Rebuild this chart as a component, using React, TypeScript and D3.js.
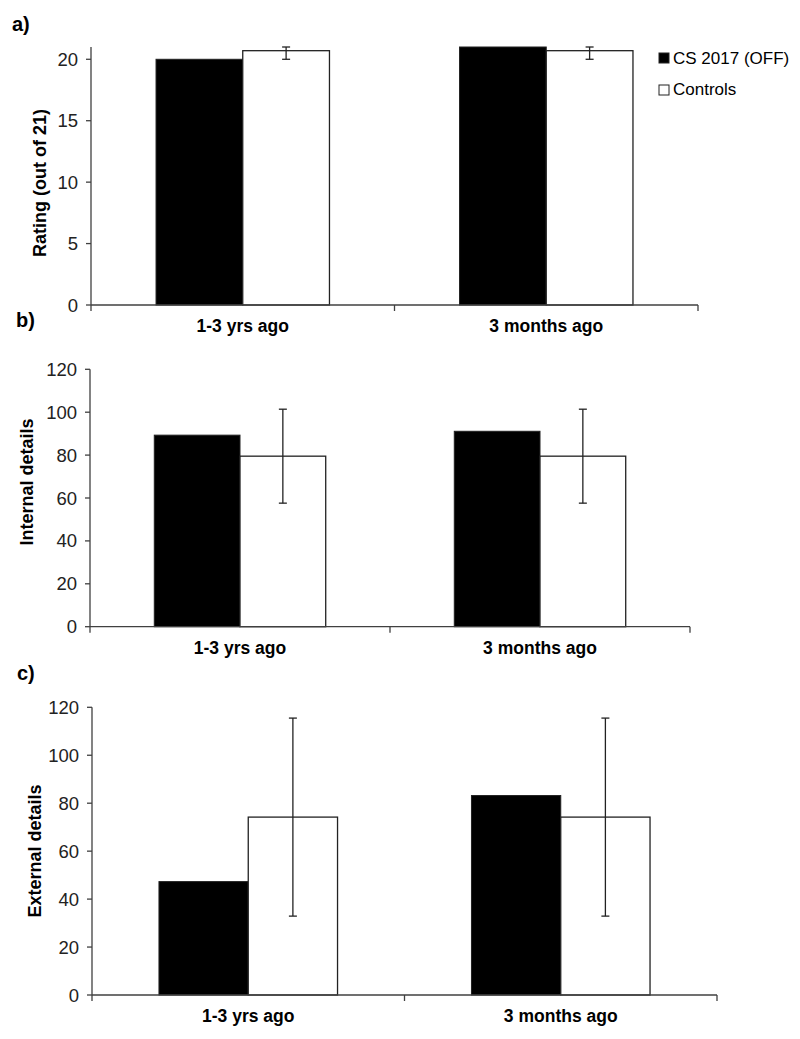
import React from "react";
import * as d3 from "d3";

const categories = ["1-3 yrs ago", "3 months ago"];
const seriesNames = ["CS 2017 (OFF)", "Controls"];

const ratingCS = [20, 21];
const ratingControls = [20.7, 20.7];
const ratingControlsErr = [0.7, 0.7];
const ratingTicks = [0, 5, 10, 15, 20];

const internalCS = [89.3, 91.1];
const internalControls = [79.5, 79.5];
const internalControlsErr = [21.9, 21.9];
const detailTicks = [0, 20, 40, 60, 80, 100, 120];

const externalCS = [47.3, 83.2];
const externalControls = [74.2, 74.2];
const externalControlsErr = [41.3, 41.3];

type PanelProps = {
  label: string;
  labelX: number;
  labelY: number;
  yTitle: string;
  yTitleX: number;
  yTitleY: number;
  x0: number;
  x1: number;
  yTop: number;
  yBottom: number;
  yMax: number;
  ticks: number[];
  cs: number[];
  ctrl: number[];
  ctrlErr: number[];
};

const FONT = "Arial, 'Liberation Sans', sans-serif";
const AXIS = "#404040";

function Panel(p: PanelProps) {
  const xOuter = d3.scaleBand<string>().domain(categories).range([p.x0, p.x1]).paddingInner(0).paddingOuter(0);
  const xInner = d3
    .scaleBand<string>()
    .domain(seriesNames)
    .range([0, xOuter.bandwidth()])
    .paddingInner(0)
    .paddingOuter(0.75);
  const y = d3.scaleLinear().domain([0, p.yMax]).range([p.yBottom, p.yTop]);
  const bw = xInner.bandwidth();
  const boundaries = [p.x0, ...categories.map((c) => (xOuter(c) as number) + xOuter.bandwidth())];

  return (
    <g>
      <text x={p.labelX} y={p.labelY} fontFamily={FONT} fontWeight="bold" fontSize={20} fill="#000">
        {p.label}
      </text>
      <text
        transform={`translate(${p.yTitleX},${p.yTitleY}) rotate(-90)`}
        textAnchor="middle"
        dominantBaseline="central"
        fontFamily={FONT}
        fontWeight="bold"
        fontSize={18}
        fill="#000"
      >
        {p.yTitle}
      </text>
      {categories.map((c, i) => {
        const gx = xOuter(c) as number;
        const bx = gx + (xInner(seriesNames[0]) as number);
        const wx = gx + (xInner(seriesNames[1]) as number);
        const eTop = y(Math.min(p.yMax, p.ctrl[i] + p.ctrlErr[i]));
        const eBot = y(Math.max(0, p.ctrl[i] - p.ctrlErr[i]));
        const ex = wx + bw / 2;
        return (
          <g key={c}>
            <rect x={bx} y={y(p.cs[i])} width={bw} height={y(0) - y(p.cs[i])} fill="#000" stroke="#222" strokeWidth={1} />
            <rect x={wx} y={y(p.ctrl[i])} width={bw} height={y(0) - y(p.ctrl[i])} fill="#fff" stroke="#222" strokeWidth={1.3} />
            <line x1={ex} x2={ex} y1={eTop} y2={eBot} stroke="#222" strokeWidth={1.3} />
            <line x1={ex - 4} x2={ex + 4} y1={eTop} y2={eTop} stroke="#222" strokeWidth={1.3} />
            <line x1={ex - 4} x2={ex + 4} y1={eBot} y2={eBot} stroke="#222" strokeWidth={1.3} />
            <text
              x={gx + xOuter.bandwidth() / 2}
              y={p.yBottom + 27}
              textAnchor="middle"
              fontFamily={FONT}
              fontWeight="bold"
              fontSize={17.5}
              fill="#000"
            >
              {c}
            </text>
          </g>
        );
      })}
      {/* y axis */}
      <line x1={p.x0} x2={p.x0} y1={p.yTop} y2={p.yBottom} stroke={AXIS} strokeWidth={1.3} />
      {p.ticks.map((t) => (
        <g key={t}>
          <line x1={p.x0 - 5} x2={p.x0} y1={y(t)} y2={y(t)} stroke={AXIS} strokeWidth={1.3} />
          <text
            x={p.x0 - 13}
            y={y(t)}
            textAnchor="end"
            dominantBaseline="central"
            fontFamily={FONT}
            fontSize={18.5}
            fill="#222"
          >
            {t}
          </text>
        </g>
      ))}
      {/* x axis */}
      <line x1={p.x0} x2={p.x1} y1={p.yBottom} y2={p.yBottom} stroke={AXIS} strokeWidth={1.3} />
      {boundaries.map((bx, i) => (
        <line key={i} x1={bx} x2={bx} y1={p.yBottom} y2={p.yBottom + 6} stroke={AXIS} strokeWidth={1.3} />
      ))}
    </g>
  );
}

export default function App() {
  return (
    <svg
      width={800}
      height={1039}
      style={{ position: "absolute", left: 0, top: 0, background: "#fff" }}
    >
      <rect x={0} y={0} width={800} height={1039} fill="#fff" />
      <Panel
        label="a)"
        labelX={12}
        labelY={31}
        yTitle="Rating (out of 21)"
        yTitleX={40}
        yTitleY={183}
        x0={91}
        x1={698}
        yTop={47}
        yBottom={305}
        yMax={21}
        ticks={ratingTicks}
        cs={ratingCS}
        ctrl={ratingControls}
        ctrlErr={ratingControlsErr}
      />
      <Panel
        label="b)"
        labelX={16}
        labelY={327}
        yTitle="Internal details"
        yTitleX={27}
        yTitleY={482}
        x0={90}
        x1={690}
        yTop={369.3}
        yBottom={626.7}
        yMax={120}
        ticks={detailTicks}
        cs={internalCS}
        ctrl={internalControls}
        ctrlErr={internalControlsErr}
      />
      <Panel
        label="c)"
        labelX={17}
        labelY={680}
        yTitle="External details"
        yTitleX={35}
        yTitleY={851}
        x0={92}
        x1={717}
        yTop={707.3}
        yBottom={995}
        yMax={120}
        ticks={detailTicks}
        cs={externalCS}
        ctrl={externalControls}
        ctrlErr={externalControlsErr}
      />
      {/* legend */}
      {seriesNames.map((s, i) => (
        <g key={s}>
          <rect
            x={659}
            y={53 + i * 32}
            width={10}
            height={10}
            fill={i === 0 ? "#000" : "#fff"}
            stroke="#222"
            strokeWidth={1}
          />
          <text x={673} y={63.5 + i * 31} fontFamily={FONT} fontSize={17} fill="#000">
            {s}
          </text>
        </g>
      ))}
    </svg>
  );
}
